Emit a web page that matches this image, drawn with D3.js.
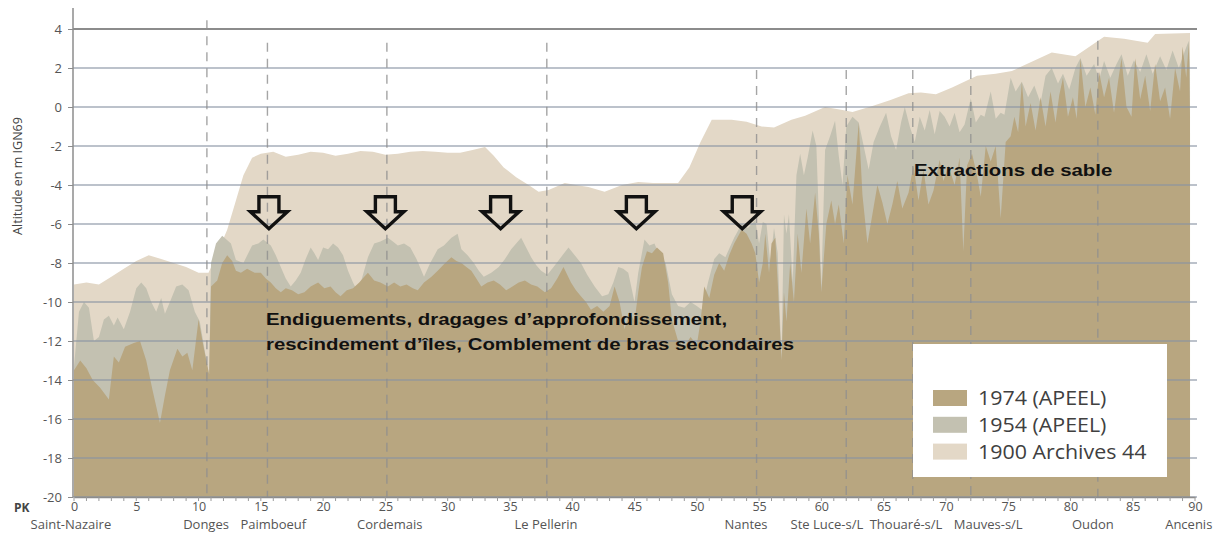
<!DOCTYPE html>
<html>
<head>
<meta charset="utf-8">
<script src="https://cdn.jsdelivr.net/npm/d3@7"></script>
<style>
  body { margin: 0; background: #fff; }
  svg { display: block; }
</style>
</head>
<body>
<svg id="chart" width="1221" height="533"></svg>
<script>
// Longitudinal bed profile of the Loire estuary, Saint-Nazaire (PK 0) to Ancenis (PK 90).
// Each profile: [PK in km, bed altitude in m IGN69].
const profile1900 = [[0,-9.1],[1,-9.0],[2,-9.1],[3,-8.7],[4,-8.3],[5,-7.9],[6,-7.6],[7,-7.8],[8,-8.0],[9,-8.2],[10,-8.5],[10.8,-8.5],[11.3,-7.8],[12.3,-6.3],[13,-4.8],[13.6,-3.5],[14.3,-2.6],[15,-2.4],[16,-2.3],[17,-2.55],[18,-2.45],[19,-2.3],[20,-2.35],[21,-2.5],[22,-2.4],[23,-2.25],[24,-2.3],[25,-2.45],[26,-2.4],[27,-2.3],[28,-2.25],[29,-2.3],[30,-2.35],[31,-2.35],[32,-2.2],[33,-2.05],[33.7,-2.5],[34.5,-3.1],[35.5,-3.6],[36.5,-4.0],[37.3,-4.35],[38.1,-4.25],[39.4,-3.9],[40.3,-4.0],[41.3,-4.1],[42.6,-4.35],[44,-4.0],[45.3,-3.85],[46.5,-3.9],[48.5,-3.9],[49.4,-3.1],[50.3,-1.8],[51.2,-0.65],[52.8,-0.65],[54,-0.75],[55.2,-1.0],[56.2,-1.05],[57.6,-0.65],[58.7,-0.45],[60.3,0.0],[61.7,-0.15],[62.5,-0.25],[64.1,0.05],[65.5,0.35],[67,0.7],[68,0.75],[69.2,0.65],[70.5,1.0],[72.5,1.6],[74,1.7],[75.3,1.85],[76.5,2.2],[78.5,2.8],[80.4,2.6],[82.7,3.6],[84.3,3.5],[86.2,3.3],[86.8,3.75],[89.6,3.8]];

const profile1954 = [[0,-13.3],[0.4,-10.5],[0.8,-10.0],[1.2,-10.3],[1.6,-12.0],[2.0,-11.8],[2.4,-10.9],[2.8,-10.7],[3.2,-11.2],[3.5,-10.8],[4.0,-11.4],[4.5,-10.5],[5.0,-9.3],[5.4,-9.0],[5.8,-9.3],[6.2,-10.0],[6.6,-10.5],[7.0,-9.8],[7.3,-10.6],[7.7,-10.0],[8.2,-9.2],[8.7,-9.1],[9.2,-9.4],[9.7,-10.5],[10.1,-11.0],[10.5,-12.5],[10.85,-13.8],[11.0,-8.0],[11.4,-7.0],[11.9,-6.6],[12.6,-7.0],[13.0,-7.85],[13.6,-8.0],[14.3,-7.1],[14.8,-7.0],[15.2,-6.8],[15.8,-7.1],[16.2,-7.6],[16.6,-8.2],[17.0,-8.8],[17.4,-9.2],[17.8,-8.9],[18.2,-8.5],[18.6,-7.8],[19.0,-7.2],[19.3,-7.5],[19.6,-7.85],[20.0,-7.2],[20.4,-7.3],[20.8,-7.0],[21.2,-7.2],[21.6,-7.6],[22.0,-8.4],[22.4,-9.0],[22.8,-9.5],[23.2,-8.6],[23.6,-7.7],[24.1,-7.0],[24.6,-6.9],[25.2,-6.7],[25.6,-6.9],[26.0,-7.1],[26.5,-7.0],[27.0,-7.2],[27.5,-7.8],[28.1,-8.7],[28.6,-8.0],[29.2,-7.3],[29.7,-7.1],[30.3,-6.7],[30.8,-6.5],[31.1,-7.3],[31.6,-7.6],[32.1,-8.0],[32.5,-8.4],[32.9,-8.7],[33.5,-8.5],[34.1,-8.2],[34.6,-7.8],[35.1,-7.3],[35.5,-7.0],[35.9,-6.7],[36.3,-7.2],[36.7,-7.7],[37.1,-8.1],[37.5,-8.4],[38.0,-8.6],[38.5,-8.2],[39.1,-7.7],[39.7,-7.2],[40.2,-7.6],[40.7,-8.0],[41.2,-8.6],[41.8,-9.2],[42.4,-9.7],[42.9,-9.6],[43.3,-9.0],[43.7,-8.2],[44.1,-8.3],[44.5,-8.5],[44.8,-9.4],[45.0,-10.0],[45.3,-8.5],[45.8,-6.8],[46.2,-7.1],[46.6,-7.0],[47.0,-7.6],[47.5,-8.0],[48.0,-9.6],[48.5,-10.2],[49.0,-10.3],[49.5,-10.0],[50.0,-10.2],[50.4,-10.4],[50.9,-9.0],[51.4,-7.8],[51.8,-7.5],[52.3,-7.7],[53.0,-6.7],[53.6,-6.0],[54.1,-6.2],[54.7,-5.8],[55.0,-7.0],[55.3,-5.9],[55.6,-6.0],[55.9,-8.0],[56.2,-6.2],[56.5,-7.5],[56.8,-13.0],[57.0,-5.5],[57.2,-6.5],[57.4,-5.5],[57.7,-9.0],[58.0,-3.5],[58.3,-2.4],[58.6,-3.5],[58.9,-2.6],[59.3,-1.2],[59.6,-2.0],[60.0,-9.2],[60.3,-2.2],[60.7,-1.5],[61.1,-0.7],[61.4,-2.5],[61.7,-4.0],[62.0,-1.0],[62.5,-0.5],[63.0,-0.8],[63.4,-2.0],[63.8,-3.2],[64.2,-1.8],[64.7,-1.0],[65.2,-0.3],[65.6,-1.5],[66.0,-2.2],[66.4,-0.8],[66.7,0.0],[67.1,-1.0],[67.5,-1.8],[67.9,-0.5],[68.3,-1.2],[68.7,-0.15],[69.1,-1.4],[69.5,-0.2],[69.9,-0.5],[70.3,-1.0],[70.7,-0.3],[71.1,-1.3],[71.5,-0.9],[72.0,0.45],[72.4,-0.8],[72.8,-0.4],[73.1,-0.5],[73.6,0.8],[74.0,-0.6],[74.4,-0.3],[74.7,-0.4],[75.2,1.5],[75.6,0.8],[76.1,1.3],[76.6,0.5],[77.1,1.1],[77.6,0.2],[78.0,1.6],[78.5,2.0],[79.0,1.2],[79.4,1.7],[79.9,0.9],[80.4,2.0],[80.8,2.5],[81.3,1.6],[81.9,2.2],[82.3,1.4],[82.7,2.36],[83.2,1.5],[83.7,2.2],[84.1,2.7],[84.6,1.6],[85.1,2.4],[85.6,1.8],[86.1,2.7],[86.6,1.7],[87.2,2.6],[87.7,1.9],[88.2,2.9],[88.7,2.0],[89.2,2.9],[89.5,3.4],[89.6,2.0]];

const profile1974 = [[0,-13.5],[0.5,-13.0],[1.0,-13.4],[1.5,-14.0],[2.1,-14.4],[2.8,-15.0],[3.2,-12.8],[3.6,-13.1],[4.1,-12.3],[4.8,-12.1],[5.3,-12.0],[5.8,-13.0],[6.3,-14.5],[6.9,-16.2],[7.3,-14.8],[7.7,-13.5],[8.3,-12.4],[8.7,-12.8],[9.1,-12.6],[9.5,-13.5],[10.0,-10.9],[10.4,-12.3],[10.85,-13.7],[11.0,-9.2],[11.5,-8.9],[11.9,-8.0],[12.3,-7.6],[12.7,-7.9],[13.0,-8.4],[13.4,-8.5],[13.9,-8.3],[14.5,-8.5],[15.0,-8.5],[15.4,-8.8],[15.8,-9.0],[16.2,-9.3],[16.6,-9.5],[17.0,-9.3],[17.5,-9.4],[18.0,-9.6],[18.5,-9.5],[19.0,-9.2],[19.6,-9.0],[20.1,-9.3],[20.6,-9.2],[21.0,-9.5],[21.4,-9.7],[21.9,-9.4],[22.4,-9.3],[22.9,-9.0],[23.3,-8.7],[23.6,-8.5],[24.1,-8.9],[24.6,-9.0],[25.2,-9.2],[25.7,-9.0],[26.2,-9.2],[26.7,-9.1],[27.2,-9.3],[27.6,-9.4],[28.1,-9.0],[28.7,-8.7],[29.2,-8.4],[29.8,-8.0],[30.3,-7.7],[30.7,-7.9],[31.1,-8.0],[31.5,-8.2],[31.9,-8.4],[32.3,-8.8],[32.7,-9.2],[33.2,-9.0],[33.7,-8.9],[34.2,-9.1],[34.7,-9.4],[35.2,-9.2],[35.7,-9.0],[36.2,-8.9],[36.7,-9.1],[37.2,-9.2],[37.8,-9.5],[38.3,-9.3],[38.8,-8.8],[39.3,-8.2],[39.9,-9.0],[40.3,-9.4],[40.7,-9.7],[41.1,-10.0],[41.5,-10.4],[42.0,-10.2],[42.5,-10.5],[43.0,-10.2],[43.4,-9.2],[43.8,-10.0],[44.2,-11.4],[44.6,-10.5],[45.0,-11.0],[45.3,-9.5],[45.6,-8.2],[46.0,-7.4],[46.4,-7.5],[46.8,-7.2],[47.3,-7.5],[47.7,-9.0],[48.0,-10.9],[48.5,-12.0],[49.0,-12.3],[49.5,-11.8],[50.0,-12.2],[50.3,-11.0],[50.6,-9.2],[51.0,-9.8],[51.4,-8.6],[51.8,-8.0],[52.2,-8.4],[52.6,-7.6],[53.0,-7.0],[53.6,-6.3],[54.0,-6.5],[54.4,-7.0],[54.7,-7.5],[55.0,-9.0],[55.3,-8.0],[55.5,-6.5],[55.8,-8.5],[56.0,-7.0],[56.3,-6.7],[56.5,-9.0],[56.8,-13.0],[57.0,-9.5],[57.2,-11.0],[57.5,-8.0],[57.8,-10.0],[58.1,-6.5],[58.4,-8.5],[58.8,-5.2],[59.1,-7.0],[59.5,-4.4],[59.8,-6.5],[60.0,-9.5],[60.4,-6.0],[60.8,-4.8],[61.1,-6.0],[61.4,-5.0],[61.8,-7.0],[62.1,-3.5],[62.5,-5.0],[63.0,-0.8],[63.3,-4.5],[63.7,-7.0],[64.1,-5.5],[64.5,-4.0],[64.9,-4.9],[65.3,-6.0],[65.7,-5.0],[66.1,-3.8],[66.5,-5.2],[67.0,-4.4],[67.4,-3.0],[67.8,-4.8],[68.2,-3.2],[68.6,-5.0],[69.0,-4.3],[69.5,-2.7],[69.8,-3.8],[70.2,-3.0],[70.7,-4.0],[71.1,-2.6],[71.4,-7.4],[71.7,-3.0],[72.1,-2.4],[72.5,-3.5],[72.8,-4.6],[73.2,-2.0],[73.6,-2.8],[74.0,-2.0],[74.4,-5.7],[74.8,-1.8],[75.2,-1.5],[75.5,-0.5],[75.8,-1.3],[76.1,1.3],[76.4,-1.0],[76.8,0.2],[77.2,-1.2],[77.6,0.5],[78.0,-1.0],[78.4,0.8],[78.8,-0.8],[79.1,0.6],[79.4,1.5],[79.8,-0.5],[80.2,0.5],[80.5,-0.6],[80.8,2.5],[81.2,0.0],[81.6,1.0],[82.0,-0.4],[82.3,1.8],[82.7,0.5],[83.1,1.5],[83.5,-0.3],[83.8,1.2],[84.1,2.5],[84.5,0.0],[84.9,-0.5],[85.2,2.5],[85.6,0.4],[86.0,1.6],[86.4,-0.2],[86.8,2.2],[87.2,0.3],[87.6,1.0],[88.0,-0.6],[88.4,2.0],[88.8,0.8],[89.0,3.1],[89.3,1.5],[89.5,3.3],[89.6,-0.5]];

// Axis ticks
const altitudeTicks = [4, 2, 0, -2, -4, -6, -8, -10, -12, -14, -16, -18, -20];
const pkTicks = [0, 5, 10, 15, 20, 25, 30, 35, 40, 45, 50, 55, 60, 65, 70, 75, 80, 85, 90];
const pkMinorTicks = d3.range(0, 91, 1);

// Towns along the river: label position and position of the dashed marker
const townNames = ["Saint-Nazaire", "Donges", "Paimboeuf", "Cordemais", "Le Pellerin", "Nantes", "Ste Luce-s/L", "Thouaré-s/L", "Mauves-s/L", "Oudon", "Ancenis"];
const townLabelPk = [-0.25, 10.6, 16.0, 25.35, 37.9, 53.95, 60.45, 66.8, 73.4, 81.8, 89.5];
const markerPk = [10.67, 15.53, 25.12, 37.96, 54.8, 62.0, 67.34, 72.0, 82.2];
const markerTopAlt = [4.45, 3.3, 3.3, 3.3, 1.9, 1.9, 1.9, 1.9, 3.4];

// Dredging arrows
const arrowPk = [15.65, 25.0, 34.25, 45.15, 53.65];

// Series for the legend
const seriesNames = ["1974 (APEEL)", "1954 (APEEL)", "1900 Archives 44"];
const seriesColors = ["#b8a680", "#c3c1b1", "#e3d8c7"];

const svg = d3.select("#chart");
const x = d3.scaleLinear().domain([0, 90]).range([74, 1195]);
const y = d3.scaleLinear().domain([-20, 4]).range([497, 29]);

const area = d3.area()
  .x(d => x(d[0]))
  .y0(y(-20))
  .y1(d => y(d[1]))
  .curve(d3.curveLinear);

// Profiles, oldest at the back
const layers = [
  { data: profile1900, color: seriesColors[2] },
  { data: profile1954, color: seriesColors[1] },
  { data: profile1974, color: seriesColors[0] }
];
svg.append("g").selectAll("path")
  .data(layers)
  .join("path")
  .attr("d", d => area(d.data))
  .attr("fill", d => d.color);

// Horizontal grid lines
svg.append("g").selectAll("line")
  .data(altitudeTicks)
  .join("line")
  .attr("x1", 73).attr("x2", 1197)
  .attr("y1", d => y(d)).attr("y2", d => y(d))
  .attr("stroke", d => d === 4 ? "#8c8c8c" : "#8893a3")
  .attr("stroke-opacity", d => d === 4 ? 1 : 0.75)
  .attr("stroke-width", d => d === 4 ? 2 : 1.4);

// Dashed town markers
svg.append("g").selectAll("line")
  .data(markerPk)
  .join("line")
  .attr("x1", d => x(d)).attr("x2", d => x(d))
  .attr("y1", (d, i) => y(markerTopAlt[i]))
  .attr("y2", y(-20))
  .attr("stroke", "#8f8f8f")
  .attr("stroke-opacity", 0.8)
  .attr("stroke-width", 1.4)
  .attr("stroke-dasharray", "9,7");

// Y axis
const yAxis = d3.axisLeft(y)
  .tickValues(altitudeTicks)
  .tickFormat(d => String(d))
  .tickSize(5)
  .tickPadding(6);
const gy = svg.append("g").attr("transform", "translate(73,0)").call(yAxis);
gy.select(".domain").attr("d", `M0,8V${y(-20)}`).attr("stroke", "#8c8c8c").attr("stroke-width", 1.5);
gy.selectAll(".tick line").attr("stroke", "#8c8c8c");
gy.selectAll(".tick text")
  .attr("font-family", "'Open Sans', sans-serif")
  .attr("font-size", 13)
  .attr("fill", "#555");

// X axis: labels every 5 km, small ticks every km
const xAxis = d3.axisBottom(x)
  .tickValues(pkTicks)
  .tickFormat(d => String(d))
  .tickSize(0)
  .tickPadding(5);
const gx = svg.append("g").attr("transform", `translate(0,${y(-20)})`).call(xAxis);
gx.select(".domain").attr("stroke", "#8c8c8c").attr("stroke-width", 1.5);
gx.selectAll(".tick text")
  .attr("font-family", "'Open Sans', sans-serif")
  .attr("font-size", 12.5)
  .attr("fill", "#555");
svg.append("g").selectAll("line")
  .data(pkMinorTicks)
  .join("line")
  .attr("x1", d => x(d)).attr("x2", d => x(d))
  .attr("y1", y(-20)).attr("y2", y(-20) + 4)
  .attr("stroke", "#9a9a9a").attr("stroke-width", 1);

svg.append("text")
  .attr("x", 14).attr("y", 512)
  .attr("font-family", "'Open Sans', sans-serif")
  .attr("font-weight", "bold")
  .attr("font-size", 12)
  .attr("fill", "#444")
  .text("PK");

// Town names under the axis
svg.append("g").selectAll("text")
  .data(townNames)
  .join("text")
  .attr("x", (d, i) => x(townLabelPk[i]))
  .attr("y", 529)
  .attr("text-anchor", "middle")
  .attr("font-family", "'Open Sans', sans-serif")
  .attr("font-size", 13)
  .attr("fill", "#555")
  .text(d => d);

// Y axis title
svg.append("text")
  .attr("transform", "translate(22,176) rotate(-90)")
  .attr("text-anchor", "middle")
  .attr("font-family", "'Open Sans', sans-serif")
  .attr("font-size", 12.5)
  .attr("fill", "#444")
  .text("Altitude en m IGN69");

// Hollow downward arrows
function arrowPath(cx, top) {
  const p = d3.path();
  p.moveTo(cx - 10, top);
  p.lineTo(cx + 10, top);
  p.lineTo(cx + 10, top + 15);
  p.lineTo(cx + 18.5, top + 15);
  p.lineTo(cx, top + 32);
  p.lineTo(cx - 18.5, top + 15);
  p.lineTo(cx - 10, top + 15);
  p.closePath();
  return p.toString();
}
svg.append("g").selectAll("path")
  .data(arrowPk)
  .join("path")
  .attr("d", d => arrowPath(x(d), y(-4.6)))
  .attr("fill", "none")
  .attr("stroke", "#111")
  .attr("stroke-width", 3.4)
  .attr("stroke-linejoin", "miter");

// Annotations (bold, slightly widened lettering)
function note(tx, ty, str) {
  svg.append("text")
    .attr("transform", `translate(${tx},${ty}) scale(1.2,1)`)
    .attr("font-family", "'Liberation Sans', Arial, sans-serif")
    .attr("font-weight", "bold")
    .attr("font-size", 17)
    .attr("fill", "#111")
    .text(str);
}
note(266, 325, "Endiguements, dragages d\u2019approfondissement,");
note(266, 350, "rescindement d\u2019\u00eeles, Comblement de bras secondaires");
note(914, 176, "Extractions de sable");

// Legend
const legend = svg.append("g");
legend.append("rect")
  .attr("x", 913).attr("y", 344)
  .attr("width", 254).attr("height", 133)
  .attr("fill", "#fff");
const rows = legend.selectAll("g.row")
  .data(seriesNames)
  .join("g")
  .attr("class", "row")
  .attr("transform", (d, i) => `translate(933,${390 + i * 26.8})`);
rows.append("rect")
  .attr("width", 34).attr("height", 16)
  .attr("fill", (d, i) => seriesColors[i]);
rows.append("text")
  .attr("transform", "translate(45,15) scale(1.07,1)")
  .attr("font-family", "'Open Sans', sans-serif")
  .attr("font-size", 20)
  .attr("fill", "#404040")
  .text(d => d);
</script>
</body>
</html>
